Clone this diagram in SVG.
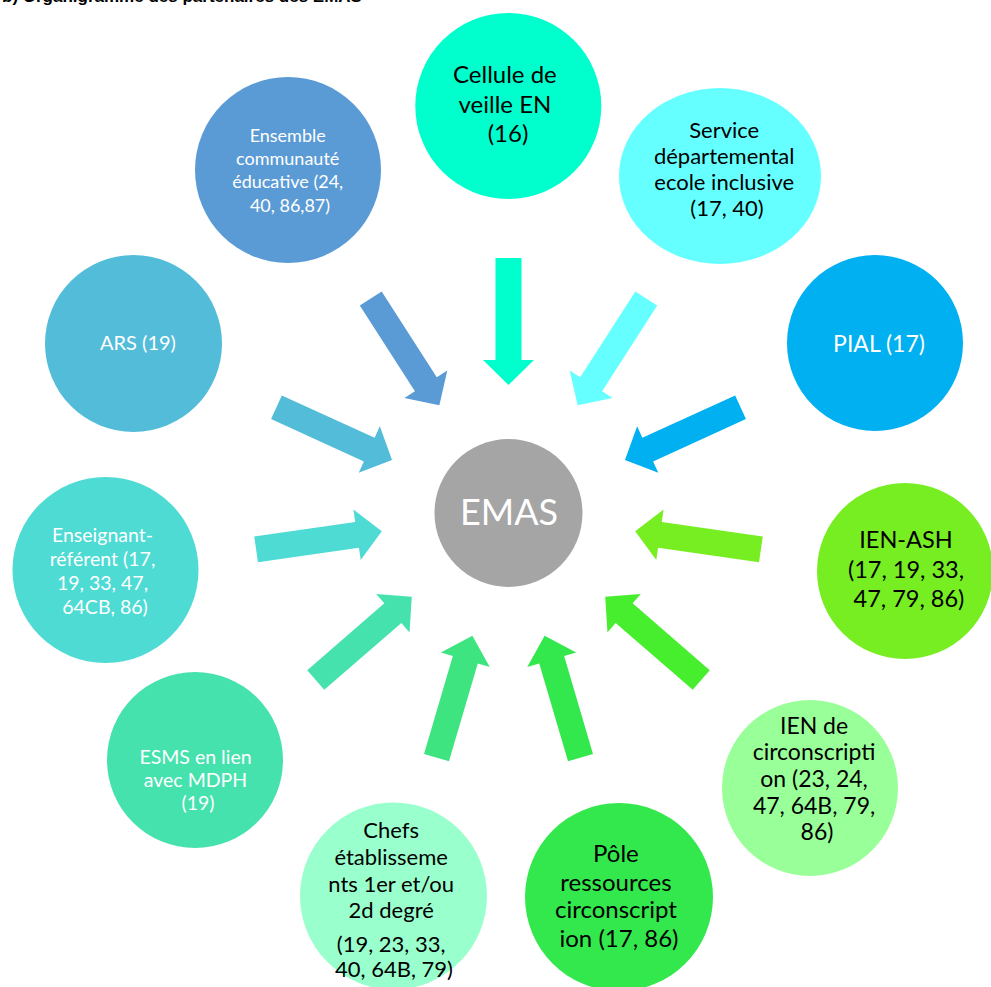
<svg xmlns="http://www.w3.org/2000/svg" xmlns:xlink="http://www.w3.org/1999/xlink" width="991" height="987" viewBox="0 0 991 987">
  <style>
    text { font-family: Lato, "Liberation Sans", sans-serif; text-anchor: middle; }
    .w { fill: #ffffff; }
    .k { fill: #000000; }
    .title { font-family: "Liberation Sans", Arial, sans-serif; font-weight: bold; font-size: 17px; text-anchor: start; fill: #000; }
  </style>
  <defs>
    <!-- radial block arrow, pointing down toward the hub centre (origin) -->
    <polygon id="arrow" points="-13,-255 13,-255 13,-153 25.5,-153 0,-128 -25.5,-153 -13,-153"/>
  </defs>

  <rect width="991" height="987" fill="#ffffff"/>

  <!-- heading, cut by the top edge -->
  <text class="title" x="2" y="1.5">b) Organigramme des partenaires des EMAS</text>

  <!-- arrows from each partner toward the hub -->
  <g id="connectors" transform="translate(508.5,513)">
    <use xlink:href="#arrow" href="#arrow" fill="#00FFCC" transform="rotate(0)"/>
    <use xlink:href="#arrow" href="#arrow" fill="#66FFFF" transform="rotate(32.7)"/>
    <use xlink:href="#arrow" href="#arrow" fill="#00B0F0" transform="rotate(65.5)"/>
    <use xlink:href="#arrow" href="#arrow" fill="#77EE22" transform="rotate(98.2)"/>
    <use xlink:href="#arrow" href="#arrow" fill="#47EE2E" transform="rotate(130.9)"/>
    <use xlink:href="#arrow" href="#arrow" fill="#33E84C" transform="rotate(163.6)"/>
    <use xlink:href="#arrow" href="#arrow" fill="#3DE480" transform="rotate(196.4)"/>
    <use xlink:href="#arrow" href="#arrow" fill="#45E2AE" transform="rotate(229.1)"/>
    <use xlink:href="#arrow" href="#arrow" fill="#4DDBD4" transform="rotate(261.8)"/>
    <use xlink:href="#arrow" href="#arrow" fill="#53BCD8" transform="rotate(294.5)"/>
    <use xlink:href="#arrow" href="#arrow" fill="#5B9BD5" transform="rotate(327.3)"/>
  </g>

  <g id="emas">
    <circle cx="508.5" cy="513" r="74" fill="#A5A5A5"/>
    <text class="w" x="509" y="525" font-size="36">EMAS</text>
  </g>

  <g id="cellule-veille">
    <circle cx="508.3" cy="106" r="93" fill="#00FFCC"/>
    <text class="k" font-size="24">
      <tspan x="508" y="83">Cellule de</tspan>
      <tspan x="508" y="113">veille EN</tspan>
      <tspan x="508" y="142">(16)</tspan>
    </text>
  </g>

  <g id="service-departemental">
    <ellipse cx="720" cy="176" rx="101" ry="88" fill="#66FFFF"/>
    <text class="k" font-size="22">
      <tspan x="727" y="138">Service</tspan>
      <tspan x="727" y="164">départemental</tspan>
      <tspan x="727" y="190">ecole inclusive</tspan>
      <tspan x="727" y="216">(17, 40)</tspan>
    </text>
  </g>

  <g id="pial">
    <circle cx="875" cy="343" r="88" fill="#00B0F0"/>
    <text class="w" x="879" y="352" font-size="23">PIAL (17)</text>
  </g>

  <g id="ien-ash">
    <circle cx="905" cy="571" r="88" fill="#77EE22"/>
    <text class="k" font-size="23.5">
      <tspan x="909" y="548">IEN-ASH</tspan>
      <tspan x="909" y="578">(17, 19, 33,</tspan>
      <tspan x="909" y="607">47, 79, 86)</tspan>
    </text>
  </g>

  <g id="ien-circonscription">
    <circle cx="810" cy="788" r="88" fill="#99FF99"/>
    <text class="k" font-size="23">
      <tspan x="817" y="734">IEN de</tspan>
      <tspan x="817" y="760">circonscripti</tspan>
      <tspan x="817" y="787">on (23, 24,</tspan>
      <tspan x="817" y="814">47, 64B, 79,</tspan>
      <tspan x="817" y="840">86)</tspan>
    </text>
  </g>

  <g id="pole-ressources">
    <circle cx="619" cy="897" r="94" fill="#33E84C"/>
    <text class="k" font-size="24">
      <tspan x="619" y="862">Pôle</tspan>
      <tspan x="619" y="891">ressources</tspan>
      <tspan x="619" y="918">circonscript</tspan>
      <tspan x="619" y="947">ion (17, 86)</tspan>
    </text>
  </g>

  <g id="chefs-etablissements">
    <circle cx="393.5" cy="896" r="93.5" fill="#99FFCC"/>
    <text class="k" font-size="22">
      <tspan x="394" y="838">Chefs</tspan>
      <tspan x="394" y="865">établisseme</tspan>
      <tspan x="394" y="892">nts 1er et/ou</tspan>
      <tspan x="394" y="918">2d degré</tspan>
      <tspan x="394" y="952">(19, 23, 33,</tspan>
      <tspan x="394" y="977">40, 64B, 79)</tspan>
    </text>
  </g>

  <g id="esms">
    <circle cx="195" cy="760" r="88" fill="#45E2AE"/>
    <text class="w" font-size="19.5">
      <tspan x="198" y="764">ESMS en lien</tspan>
      <tspan x="198" y="787">avec MDPH</tspan>
      <tspan x="198" y="810">(19)</tspan>
    </text>
  </g>

  <g id="enseignant-referent">
    <circle cx="105.5" cy="570" r="93" fill="#4DDBD4"/>
    <text class="w" font-size="19.5">
      <tspan x="105" y="542">Enseignant-</tspan>
      <tspan x="105" y="566">référent (17,</tspan>
      <tspan x="105" y="590">19, 33, 47,</tspan>
      <tspan x="105" y="614">64CB, 86)</tspan>
    </text>
  </g>

  <g id="ars">
    <circle cx="133.5" cy="343.5" r="88.5" fill="#53BCD8"/>
    <text class="w" x="138" y="350" font-size="20">ARS (19)</text>
  </g>

  <g id="communaute-educative">
    <circle cx="288" cy="170" r="93" fill="#5B9BD5"/>
    <text class="w" font-size="18">
      <tspan x="290" y="142">Ensemble</tspan>
      <tspan x="290" y="165">communauté</tspan>
      <tspan x="290" y="188">éducative (24,</tspan>
      <tspan x="290" y="212">40, 86,87)</tspan>
    </text>
  </g>
</svg>
